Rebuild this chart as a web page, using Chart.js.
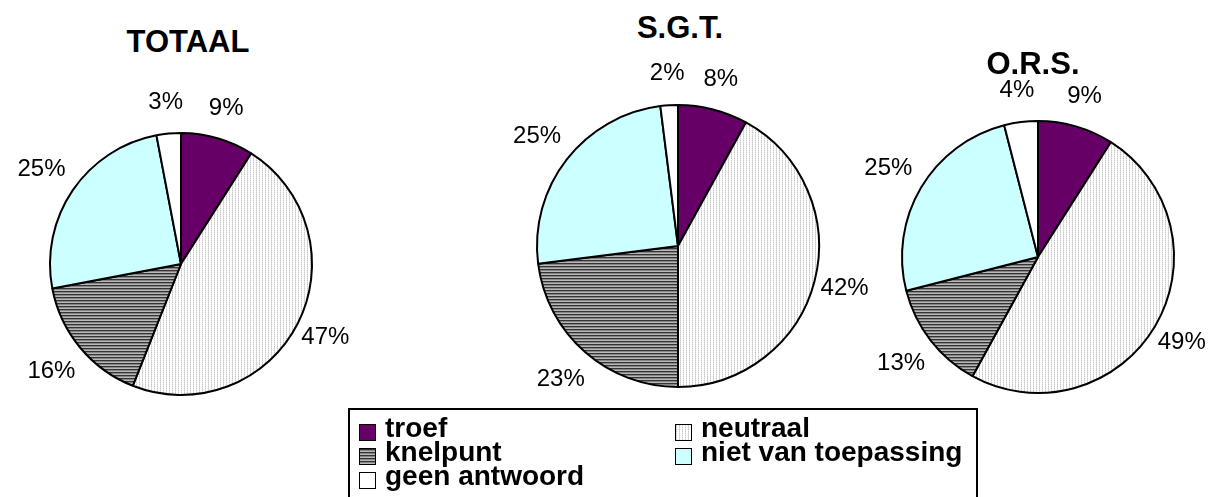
<!DOCTYPE html>
<html>
<head>
<meta charset="utf-8">
<script src="https://cdn.jsdelivr.net/npm/chart.js@4.4.0/dist/chart.umd.min.js"></script>
<style>
  html, body { margin: 0; padding: 0; background: #fff; overflow: hidden; }
  body { width: 1214px; height: 497px; position: relative; font-family: Arial, "Liberation Sans", sans-serif; }
  canvas { position: absolute; }
  .title { position: absolute; width: 300px; text-align: center; font-weight: bold; font-size: 31px; line-height: 31px; color: #000; }
  #legend { position: absolute; left: 348px; top: 408px; width: 630px; height: 120px; border: 2px solid #000; box-sizing: border-box; }
  .lg-item { position: absolute; font-weight: bold; font-size: 28px; line-height: 24px; color: #000; white-space: nowrap; }
  .lg-box { position: absolute; width: 15px; height: 15px; border: 1px solid #000; }
</style>
</head>
<body>
<div id="legend"></div>
<script>
document.addEventListener("DOMContentLoaded", function() {

    // data
    const categories = ['troef', 'neutraal', 'knelpunt', 'niet van toepassing', 'geen antwoord'];
    const totaalValues = [9, 47, 16, 25, 3];
    const sgtValues = [8, 42, 23, 25, 2];
    const orsValues = [9, 49, 13, 25, 4];
    const chartTitles = ['TOTAAL', 'S.G.T.', 'O.R.S.'];

    // small tiles for the excel style fills
    function makeTile(w, h, pixels) {
        const c = document.createElement('canvas');
        c.width = w; c.height = h;
        const g = c.getContext('2d');
        g.fillStyle = '#fff';
        g.fillRect(0, 0, w, h);
        pixels.forEach(function(p) {
            g.fillStyle = p[2];
            g.fillRect(p[0], p[1], 1, 1);
        });
        return c;
    }
    const dotTile = makeTile(3, 2, [[0, 0, '#c8c8c8'], [0, 1, '#e2e2e2']]);
    const stripeTile = makeTile(2, 3, [[0, 0, '#343434'], [1, 0, '#343434'], [0, 1, '#858585'], [1, 1, '#858585'], [0, 2, '#b8b8b8'], [1, 2, '#b8b8b8']]);

    const pieLayouts = [
        { values: totaalValues, cx: 181, cy: 264, r: 131, titleY: 26 },
        { values: sgtValues, cx: 678, cy: 246, r: 141, titleY: 12 },
        { values: orsValues, cx: 1038, cy: 257, r: 136, titleY: 48 }
    ];
    const titleX = [188, 680, 1033];

    // percent labels just outside the rim
    const outsideLabels = {
        id: 'outsideLabels',
        afterDatasetsDraw(chart) {
            const ctx = chart.ctx;
            const meta = chart.getDatasetMeta(0);
            const data = chart.data.datasets[0].data;
            ctx.save();
            ctx.font = '24px Arial, "Liberation Sans", sans-serif';
            ctx.fillStyle = '#000';
            ctx.textAlign = 'center';
            ctx.textBaseline = 'middle';
            meta.data.forEach(function(arc, i) {
                const p = arc.getProps(['x', 'y', 'startAngle', 'endAngle', 'outerRadius'], true);
                const mid = (p.startAngle + p.endAngle) / 2;
                // labels on the left sit a little further out
                const d = p.outerRadius + 31 + 8 * Math.max(0, -Math.cos(mid));
                ctx.fillText(data[i] + '%', p.x + Math.cos(mid) * d, p.y + Math.sin(mid) * d);
            });
            ctx.restore();
        }
    };

    pieLayouts.forEach(function(pl, k) {
        const cv = document.createElement('canvas');
        const W = 2 * pl.r + 170, H = 2 * pl.r + 110;
        cv.width = W; cv.height = H;
        cv.style.left = (pl.cx - W / 2) + 'px';
        cv.style.top = (pl.cy - H / 2) + 'px';
        document.body.appendChild(cv);
        const ctx = cv.getContext('2d');
        const fills = ['#660066', ctx.createPattern(dotTile, 'repeat'), ctx.createPattern(stripeTile, 'repeat'), '#ccffff', '#ffffff'];

        new Chart(ctx, {
            type: 'pie',
            data: {
                labels: categories,
                datasets: [{
                    data: pl.values,
                    backgroundColor: fills,
                    borderColor: '#000',
                    borderWidth: 2
                }]
            },
            options: {
                responsive: false,
                animation: false,
                radius: pl.r,
                layout: { padding: 0 },
                plugins: {
                    legend: { display: false },
                    tooltip: { enabled: false }
                }
            },
            plugins: [outsideLabels]
        });

        const t = document.createElement('div');
        t.className = 'title';
        t.textContent = chartTitles[k];
        t.style.left = (titleX[k] - 150) + 'px';
        t.style.top = pl.titleY + 'px';
        document.body.appendChild(t);
    });

    // legend, two columns
    const swatchBg = ['#660066', 'url(' + dotTile.toDataURL() + ')', 'url(' + stripeTile.toDataURL() + ')', '#ccffff', '#ffffff'];
    const colX = [359, 675];
    categories.forEach(function(name, i) {
        const row = Math.floor(i / 2), col = i % 2;
        const top = 416 + row * 24;
        const box = document.createElement('div');
        box.className = 'lg-box';
        box.style.left = colX[col] + 'px';
        box.style.top = (top + 8) + 'px';
        box.style.background = swatchBg[i];
        document.body.appendChild(box);
        const txt = document.createElement('div');
        txt.className = 'lg-item';
        txt.textContent = name;
        txt.style.left = (colX[col] + 26) + 'px';
        txt.style.top = top + 'px';
        document.body.appendChild(txt);
    });
});
</script>
</body>
</html>
